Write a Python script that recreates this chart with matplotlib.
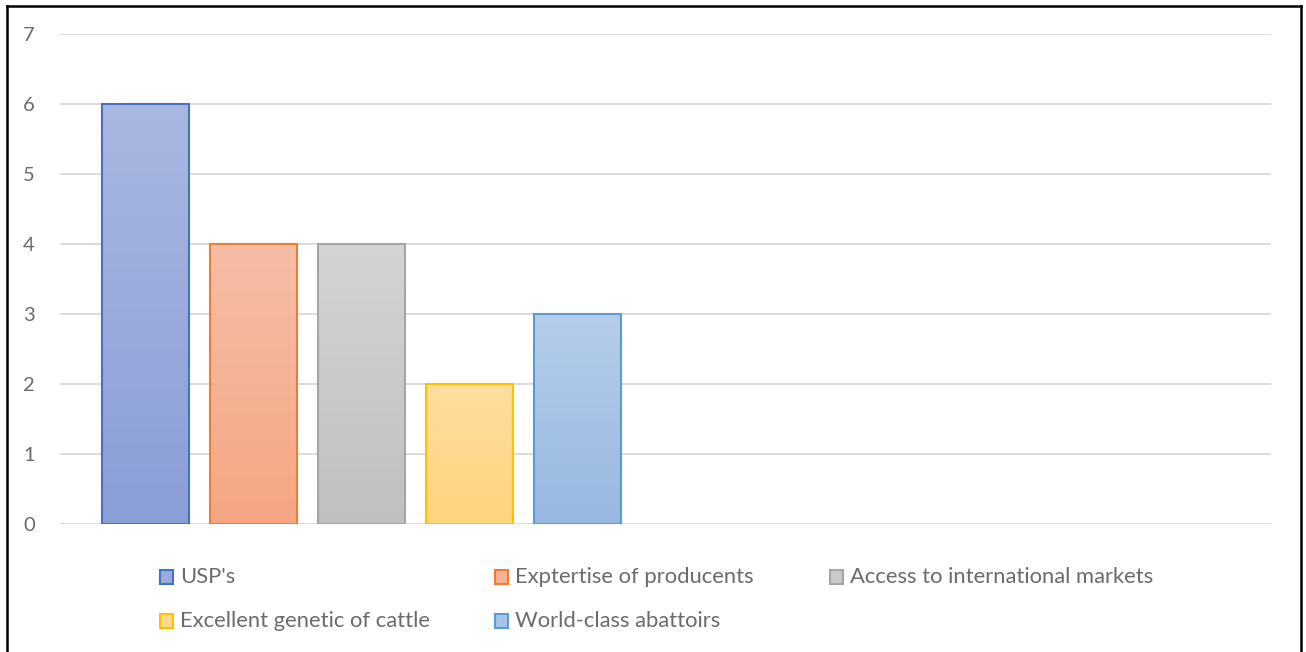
import matplotlib.pyplot as plt
import numpy as np
from matplotlib.colors import LinearSegmentedColormap
from matplotlib.patches import Rectangle
from matplotlib.lines import Line2D

plt.rcParams['font.family'] = ['Lato', 'DejaVu Sans']

series = ["USP's", "Exptertise of producents", "Access to international markets",
          "Excellent genetic of cattle", "World-class abattoirs"]
values = [6, 4, 4, 2, 3]

edge_colors = ["#4472C4", "#ED7D31", "#A5A5A5", "#FFC000", "#5B9BD5"]
top_colors = ["#A9B8E1", "#F5BEA6", "#D4D4D4", "#FFDE9E", "#B5CDE9"]
bottom_colors = ["#8A9ED7", "#F6A683", "#C0C0C0", "#FFD47E", "#97B8E2"]

W, H = 1306, 652
fig = plt.figure(figsize=(W / 100, H / 100), dpi=100)
ax = fig.add_axes([60 / W, 1 - 524 / H, 1211 / W, 490 / H])

# two category slots on the axis, only the first one holds data
ax.set_xlim(0, 2)
ax.set_ylim(0, 7)
step = 108 / 605.5
width = 87 / 605.5
xs = 0.5 + (np.arange(len(values)) - 2) * step - 1 / 605.5

grad = np.linspace(0, 1, 256).reshape(-1, 1)
for x, v, ec, tc, bc in zip(xs, values, edge_colors, top_colors, bottom_colors):
    bar = ax.bar(x, v, width=width, facecolor='none', edgecolor=ec, linewidth=1.5, zorder=3)[0]
    cmap = LinearSegmentedColormap.from_list('g', [bc, tc])
    im = ax.imshow(grad, cmap=cmap, origin='lower', aspect='auto',
                   extent=(x - width / 2, x + width / 2, 0, v), zorder=2)
    im.set_clip_path(bar)

ax.set_xlim(0, 2)
ax.set_ylim(0, 7)
ax.set_yticks(range(8))
ax.set_xticks([])
ax.yaxis.grid(True, color="#D9D9D9", linewidth=1.3)
ax.set_axisbelow(True)
for s in ax.spines.values():
    s.set_visible(False)
ax.tick_params(axis='y', length=0, pad=18, labelsize=14.5, labelcolor="#6B6B6B")

# legend, laid out row by row like the original
leg_x = [160, 495, 830]
leg_y = [577, 621]
for i, (name, ec, tc, bc) in enumerate(zip(series, edge_colors, top_colors, bottom_colors)):
    px = leg_x[i % 3]
    py = leg_y[i // 3]
    mid = LinearSegmentedColormap.from_list('g', [bc, tc])(0.5)
    fig.patches.append(Rectangle((px / W, 1 - (py + 7) / H), 13 / W, 14 / H,
                                 facecolor=mid, edgecolor=ec, linewidth=1.5,
                                 transform=fig.transFigure))
    fig.text((px + 20) / W, 1 - py / H, name, fontsize=15.8, color="#6B6B6B",
             va='center', ha='left')

# outer frame (bottom edge falls outside the picture)
for xd, yd in [([7 / W, 7 / W], [0, 1 - 6 / H]),
               ([7 / W, 1301 / W], [1 - 6 / H, 1 - 6 / H]),
               ([1301 / W, 1301 / W], [1 - 6 / H, 0])]:
    fig.lines.append(Line2D(xd, yd, color='black', linewidth=1.8, transform=fig.transFigure))

fig.savefig("out.png", dpi=100)
